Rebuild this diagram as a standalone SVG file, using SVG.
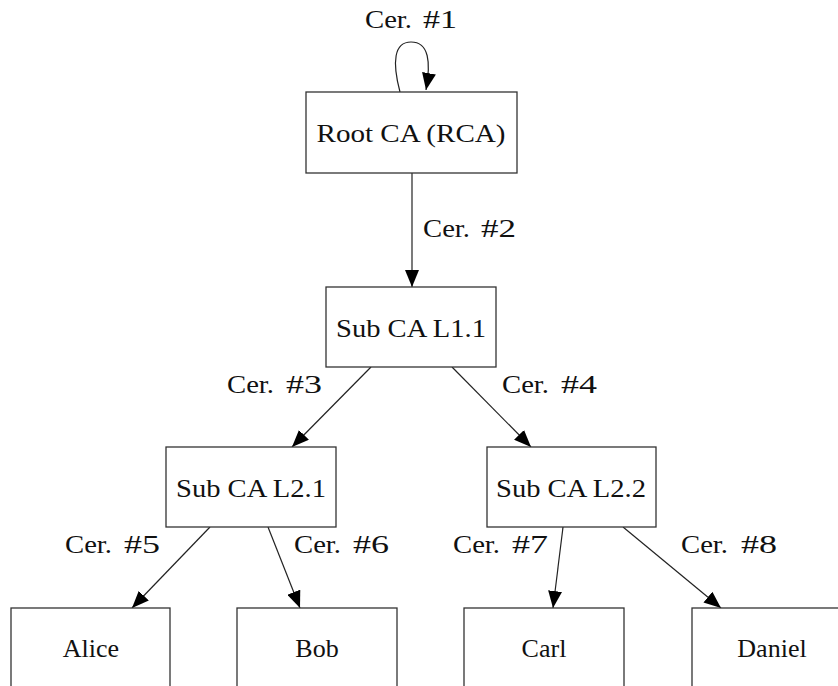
<svg xmlns="http://www.w3.org/2000/svg" width="838" height="686" viewBox="0 0 838 686">
  <style>
    .box { fill: #ffffff; stroke: #333333; stroke-width: 1.3; }
    .name { font-family: "Liberation Serif", "DejaVu Serif", serif; font-size: 26px; fill: #111111; text-anchor: middle; }
    .lbl { font-family: "Liberation Serif", "DejaVu Serif", serif; font-size: 26px; fill: #111111; }
    .edge { fill: none; stroke: #222222; stroke-width: 1.2; marker-end: url(#head); }
  </style>
  <defs>
    <marker id="head" markerUnits="userSpaceOnUse" markerWidth="18" markerHeight="14" refX="17" refY="7" orient="auto">
      <path d="M0,0 L17,7 L0,14 Z" fill="#000000"/>
    </marker>
  </defs>
  <rect width="838" height="686" fill="#ffffff"/>

  <!-- certificate connectors; each label is "Cer." followed by a wide-set number -->
  <g id="connectors">
    <path class="edge" d="M400,92 C392,62 394,42 411,42 C429,42 431,62 426,90"/>
    <text class="lbl" x="365" y="28" textLength="47" lengthAdjust="spacingAndGlyphs">Cer.</text>
    <text class="lbl" x="423" y="28" textLength="34" lengthAdjust="spacingAndGlyphs">#1</text>

    <line class="edge" x1="412" y1="173" x2="412" y2="287"/>
    <text class="lbl" x="423" y="237" textLength="47" lengthAdjust="spacingAndGlyphs">Cer.</text>
    <text class="lbl" x="481" y="237" textLength="35" lengthAdjust="spacingAndGlyphs">#2</text>

    <line class="edge" x1="371" y1="367" x2="292" y2="447"/>
    <text class="lbl" x="227" y="393" textLength="47" lengthAdjust="spacingAndGlyphs">Cer.</text>
    <text class="lbl" x="286" y="393" textLength="36" lengthAdjust="spacingAndGlyphs">#3</text>

    <line class="edge" x1="452" y1="367" x2="531" y2="447"/>
    <text class="lbl" x="502" y="393" textLength="47" lengthAdjust="spacingAndGlyphs">Cer.</text>
    <text class="lbl" x="561" y="393" textLength="36" lengthAdjust="spacingAndGlyphs">#4</text>

    <line class="edge" x1="210" y1="527" x2="132" y2="608"/>
    <text class="lbl" x="65" y="553" textLength="47" lengthAdjust="spacingAndGlyphs">Cer.</text>
    <text class="lbl" x="124" y="553" textLength="36" lengthAdjust="spacingAndGlyphs">#5</text>

    <line class="edge" x1="268" y1="527" x2="300" y2="608"/>
    <text class="lbl" x="294" y="553" textLength="47" lengthAdjust="spacingAndGlyphs">Cer.</text>
    <text class="lbl" x="353" y="553" textLength="36" lengthAdjust="spacingAndGlyphs">#6</text>

    <line class="edge" x1="563" y1="527" x2="553" y2="608"/>
    <text class="lbl" x="453" y="553" textLength="47" lengthAdjust="spacingAndGlyphs">Cer.</text>
    <text class="lbl" x="512" y="553" textLength="36" lengthAdjust="spacingAndGlyphs">#7</text>

    <line class="edge" x1="623" y1="527" x2="721" y2="608"/>
    <text class="lbl" x="681" y="553" textLength="47" lengthAdjust="spacingAndGlyphs">Cer.</text>
    <text class="lbl" x="741" y="553" textLength="36" lengthAdjust="spacingAndGlyphs">#8</text>
  </g>

  <!-- certificate authorities -->
  <g id="root-ca">
    <rect class="box" x="306" y="92" width="211" height="81"/>
    <text class="name" x="411" y="142" textLength="189" lengthAdjust="spacingAndGlyphs">Root CA (RCA)</text>
  </g>
  <g id="sub-ca-l1-1">
    <rect class="box" x="326" y="287" width="170" height="80"/>
    <text class="name" x="411" y="337" textLength="150" lengthAdjust="spacingAndGlyphs">Sub CA L1.1</text>
  </g>
  <g id="sub-ca-l2-1">
    <rect class="box" x="166" y="447" width="170" height="80"/>
    <text class="name" x="251" y="497" textLength="150" lengthAdjust="spacingAndGlyphs">Sub CA L2.1</text>
  </g>
  <g id="sub-ca-l2-2">
    <rect class="box" x="487" y="447" width="169" height="80"/>
    <text class="name" x="571" y="497" textLength="150" lengthAdjust="spacingAndGlyphs">Sub CA L2.2</text>
  </g>

  <!-- end entities -->
  <g id="alice">
    <rect class="box" x="11" y="608" width="159" height="100"/>
    <text class="name" x="91" y="657">Alice</text>
  </g>
  <g id="bob">
    <rect class="box" x="237" y="608" width="160" height="100"/>
    <text class="name" x="317" y="657">Bob</text>
  </g>
  <g id="carl">
    <rect class="box" x="464" y="608" width="160" height="100"/>
    <text class="name" x="544" y="657">Carl</text>
  </g>
  <g id="daniel">
    <rect class="box" x="692" y="608" width="160" height="100"/>
    <text class="name" x="772" y="657">Daniel</text>
  </g>
</svg>
